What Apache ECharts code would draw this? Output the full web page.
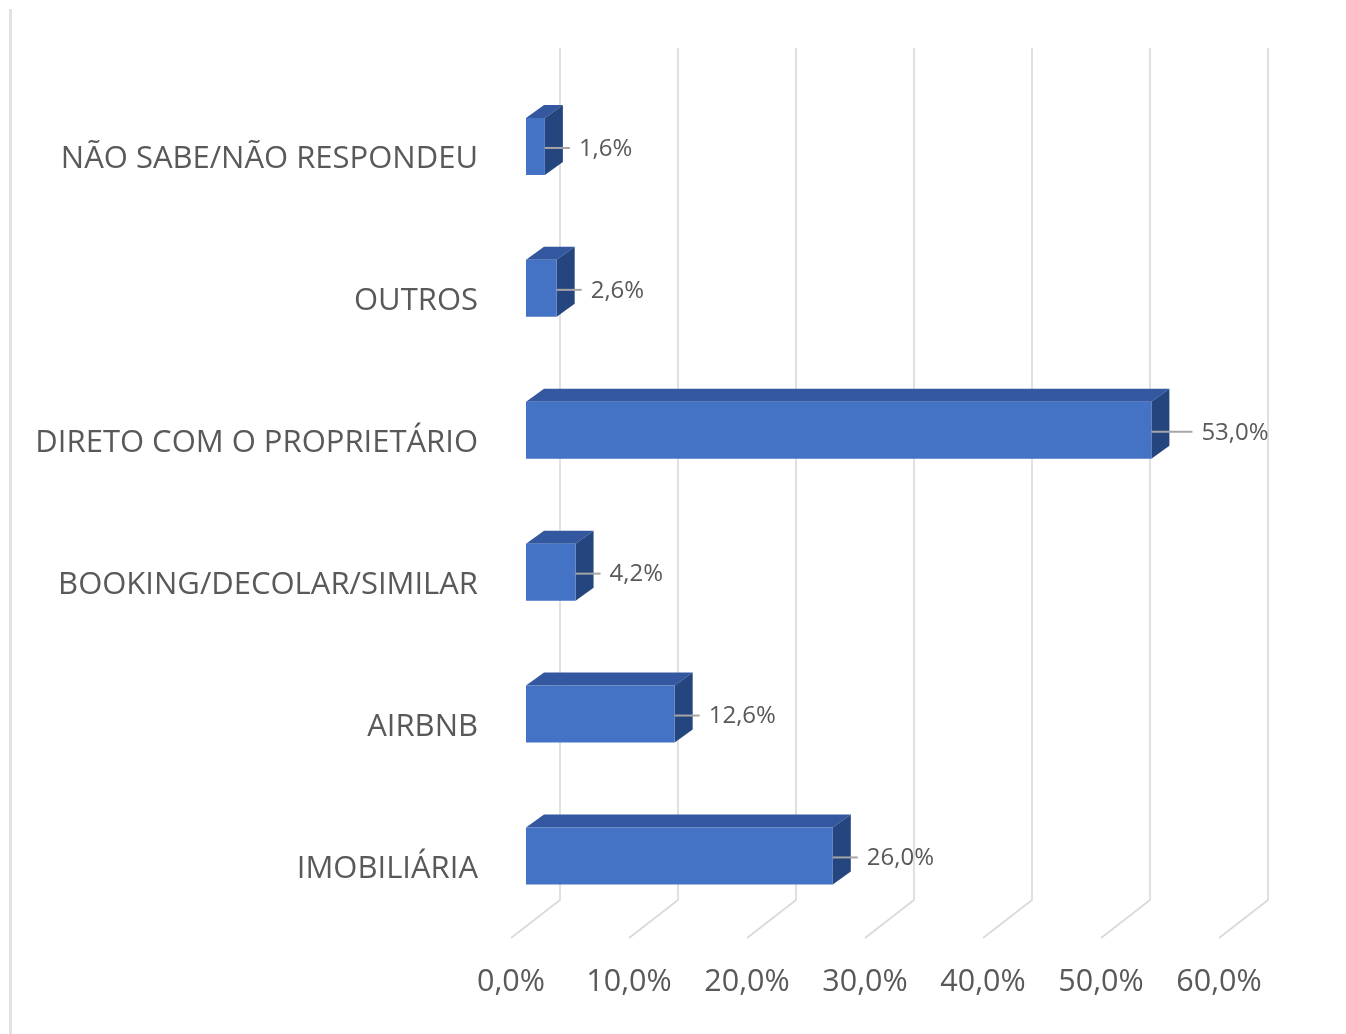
<!DOCTYPE html>
<html>
<head>
<meta charset="utf-8">
<script src="https://cdn.jsdelivr.net/npm/echarts@6/dist/echarts.min.js"></script>
<style>
html,body{margin:0;padding:0;background:#fff;}
#chart{width:1346px;height:1034px;}
</style>
</head>
<body>
<div id="chart"></div>
<script>
const categories = ['IMOBILIÁRIA','AIRBNB','BOOKING/DECOLAR/SIMILAR','DIRETO COM O PROPRIETÁRIO','OUTROS','NÃO SABE/NÃO RESPONDEU'];
const values = [26.0, 12.6, 4.2, 53.0, 2.6, 1.6];
const axisTicks = [0, 10, 20, 30, 40, 50, 60];

const fmt = v => v.toFixed(1).replace('.', ',') + '%';
const FONT = '"Open Sans", "Noto Sans", sans-serif';
const TEXT = '#595959';
const DEPTH = [18, -13];
const FLOOR = [-49, 38];

const chart = echarts.init(document.getElementById('chart'), null, {renderer: 'canvas'});

const option = {
  animation: false,
  backgroundColor: '#ffffff',
  graphic: [{
    type: 'rect', shape: {x: 9, y: 9, width: 3, height: 1030},
    style: {fill: '#e2e2e2'}, silent: true
  }],
  grid: [
    {left: 526, top: 75.5, width: 708, height: 851.4},
    {left: 560, top: 48, width: 708, height: 852},
    {left: 511, top: 937, width: 708, height: 1},
    {left: 526, top: 88.5, width: 708, height: 851.4}
  ],
  xAxis: [
    {gridIndex: 0, type: 'value', min: 0, max: 60, show: false},
    {gridIndex: 1, type: 'value', min: 0, max: 60, show: false},
    {gridIndex: 2, type: 'value', min: 0, max: 60, interval: 10,
     axisLine: {show: false}, axisTick: {show: false}, splitLine: {show: false},
     axisLabel: {margin: 29, color: TEXT, fontSize: 30.5, fontFamily: FONT, formatter: v => fmt(v)}},
    {gridIndex: 3, type: 'value', min: 0, max: 60, show: false}
  ],
  yAxis: [
    {gridIndex: 0, type: 'category', data: categories, show: false},
    {gridIndex: 1, type: 'value', min: 0, max: 1, show: false},
    {gridIndex: 2, type: 'value', min: 0, max: 1, show: false},
    {gridIndex: 3, type: 'category', data: categories,
     axisLine: {show: false}, axisTick: {show: false}, splitLine: {show: false},
     axisLabel: {margin: 48, color: TEXT, fontSize: 31, fontFamily: FONT}}
  ],
  series: [
    {
      type: 'custom', xAxisIndex: 1, yAxisIndex: 1, z: 1, clip: false, silent: true,
      data: axisTicks.map(t => [t]),
      encode: {x: 0},
      renderItem: function (params, api) {
        const v = api.value(0);
        const top = api.coord([v, 1]);
        const bot = api.coord([v, 0]);
        return {
          type: 'polyline',
          shape: {points: [top, bot, [bot[0] + FLOOR[0], bot[1] + FLOOR[1]]]},
          style: {stroke: '#d9d9d9', lineWidth: 1.6, fill: null}
        };
      }
    },
    {
      type: 'custom', xAxisIndex: 0, yAxisIndex: 0, z: 5, clip: false, silent: true,
      data: values.map((v, i) => [v, i]),
      encode: {x: 0, y: 1},
      renderItem: function (params, api) {
        const v = api.value(0);
        const i = api.value(1);
        const p0 = api.coord([0, i]);
        const p1 = api.coord([v, i]);
        const h = 57;
        const x0 = p0[0], x1 = p1[0];
        const y0 = p0[1] - h / 2, y1 = y0 + h;
        const dx = DEPTH[0], dy = DEPTH[1];
        const yc = p0[1] + 1.5;
        const leader = v > 50 ? 41 : 25;
        return {
          type: 'group',
          children: [
            {type: 'polygon', shape: {points: [[x0, y0], [x0 + dx, y0 + dy], [x1 + dx, y0 + dy], [x1, y0]]},
             style: {fill: '#3358a0'}},
            {type: 'polygon', shape: {points: [[x1, y0], [x1 + dx, y0 + dy], [x1 + dx, y1 + dy], [x1, y1]]},
             style: {fill: '#25457e'}},
            {type: 'rect', shape: {x: x0, y: y0, width: x1 - x0, height: h},
             style: {fill: '#4472c4'}},
            {type: 'line', shape: {x1: x1, y1: yc, x2: x1 + leader, y2: yc},
             style: {stroke: '#a6a6a6', lineWidth: 2}},
            {type: 'text', x: x1 + leader + 9, y: yc + 1,
             style: {text: fmt(v), fill: TEXT, font: '24px ' + FONT, textAlign: 'left', textVerticalAlign: 'middle'}}
          ]
        };
      }
    }
  ]
};
chart.setOption(option);
</script>
</body>
</html>
